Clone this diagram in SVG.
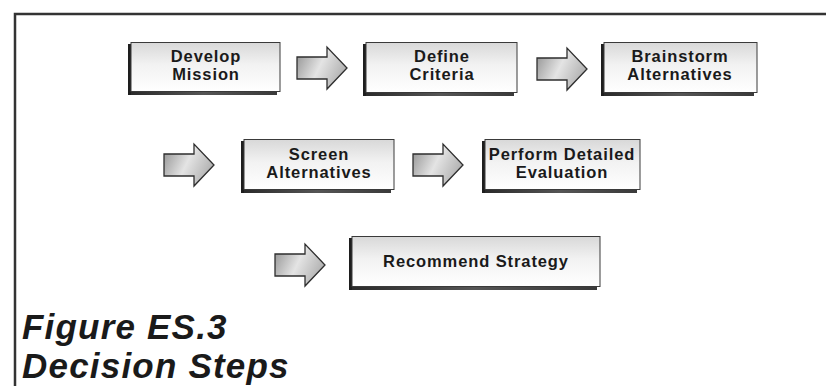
<svg xmlns="http://www.w3.org/2000/svg" width="826" height="386" viewBox="0 0 826 386">
  <defs>
    <linearGradient id="faceGrad" x1="0" y1="0" x2="0" y2="1">
      <stop offset="0" stop-color="#d8d8d8"/>
      <stop offset="0.45" stop-color="#f2f2f2"/>
      <stop offset="1" stop-color="#ffffff"/>
    </linearGradient>
    <linearGradient id="shadowGrad" x1="0" y1="0" x2="1" y2="0">
      <stop offset="0" stop-color="#2a2a2a"/>
      <stop offset="0.5" stop-color="#555555"/>
      <stop offset="1" stop-color="#3a3a3a"/>
    </linearGradient>
    <linearGradient id="arrowGrad" x1="0" y1="0" x2="1" y2="0.4">
      <stop offset="0" stop-color="#8e8e8e"/>
      <stop offset="0.55" stop-color="#e4e4e4"/>
      <stop offset="1" stop-color="#b4b4b4"/>
    </linearGradient>
    <!-- block arrow, 50 x 42 -->
    <path id="blockArrow" d="M0,10 H30 V0 L50,21 L30,42 V32 H0 Z"/>
  </defs>
  <style>
    .frame { stroke: #333; stroke-width: 2.5; fill: none; }
    .face { fill: url(#faceGrad); stroke: #3a3a3a; stroke-width: 1; }
    .edge { fill: #1e1e1e; }
    .shadow { fill: url(#shadowGrad); }
    .arrow { fill: url(#arrowGrad); stroke: #2e2e2e; stroke-width: 1.3; stroke-linejoin: miter; }
    .label { font-family: "Liberation Sans", Arial, Helvetica, sans-serif; font-weight: bold; font-size: 16.5px; fill: #1a1a1a; text-anchor: middle; letter-spacing: 0.9px; }
    .title { font-family: "Liberation Sans", Arial, Helvetica, sans-serif; font-weight: bold; font-style: italic; font-size: 35px; fill: #1a1a1a; letter-spacing: 1.2px; }
  </style>

  <rect width="826" height="386" fill="#ffffff"/>

  <!-- frame -->
  <path class="frame" d="M15,386 V14 H826"/>

  <!-- step boxes -->
  <g id="develop-mission">
    <rect class="shadow" x="130" y="91" width="147" height="4"/>
    <rect class="edge" x="128" y="44" width="3" height="51"/>
    <rect class="face" x="131" y="42.5" width="149" height="49"/>
    <text class="label" x="206" y="62">Develop</text>
    <text class="label" x="206" y="80">Mission</text>
  </g>

  <g id="define-criteria">
    <rect class="shadow" x="365" y="92" width="149" height="4"/>
    <rect class="edge" x="363" y="44" width="3" height="52"/>
    <rect class="face" x="366" y="42.5" width="151" height="50"/>
    <text class="label" x="442" y="62">Define</text>
    <text class="label" x="442" y="80">Criteria</text>
  </g>

  <g id="brainstorm-alternatives">
    <rect class="shadow" x="603" y="92" width="151" height="4"/>
    <rect class="edge" x="601" y="44" width="3" height="52"/>
    <rect class="face" x="604" y="42.5" width="153" height="50"/>
    <text class="label" x="680" y="62">Brainstorm</text>
    <text class="label" x="680" y="80">Alternatives</text>
  </g>

  <g id="screen-alternatives">
    <rect class="shadow" x="243" y="189" width="148" height="4"/>
    <rect class="edge" x="241" y="141" width="3" height="52"/>
    <rect class="face" x="244" y="139.5" width="150" height="50"/>
    <text class="label" x="319" y="160">Screen</text>
    <text class="label" x="319" y="178">Alternatives</text>
  </g>

  <g id="perform-detailed-evaluation">
    <rect class="shadow" x="484" y="189" width="153" height="4"/>
    <rect class="edge" x="482" y="141" width="3" height="52"/>
    <rect class="face" x="485" y="139.5" width="155" height="50"/>
    <text class="label" x="562" y="160">Perform Detailed</text>
    <text class="label" x="562" y="178">Evaluation</text>
  </g>

  <g id="recommend-strategy">
    <rect class="shadow" x="351" y="286" width="246" height="4"/>
    <rect class="edge" x="349" y="238" width="3" height="52"/>
    <rect class="face" x="352" y="236.5" width="248" height="50"/>
    <text class="label" x="476" y="267">Recommend Strategy</text>
  </g>

  <!-- connectors -->
  <g id="connectors">
    <use href="#blockArrow" class="arrow" x="297" y="47"/>
    <use href="#blockArrow" class="arrow" x="537" y="48"/>
    <use href="#blockArrow" class="arrow" x="164" y="144"/>
    <use href="#blockArrow" class="arrow" x="413" y="144"/>
    <use href="#blockArrow" class="arrow" x="275" y="244"/>
  </g>

  <!-- caption -->
  <g id="caption">
    <text class="title" x="22" y="339">Figure ES.3</text>
    <text class="title" x="22" y="378">Decision Steps</text>
  </g>
</svg>
